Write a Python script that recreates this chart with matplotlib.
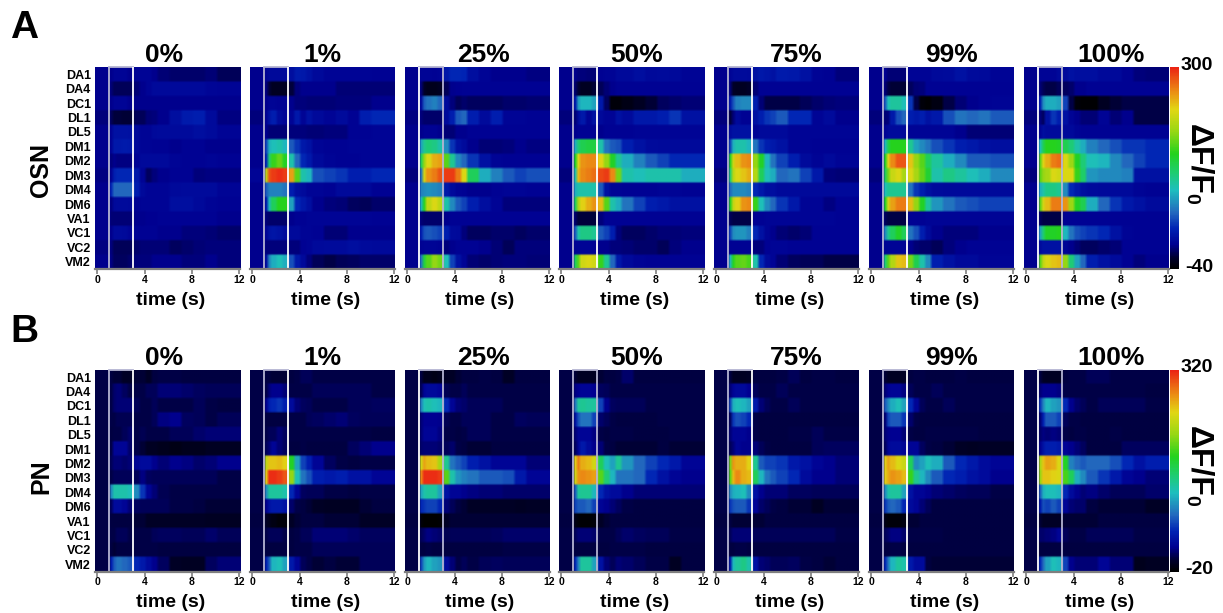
import matplotlib
matplotlib.use('Agg')
import matplotlib.pyplot as plt
import numpy as np
from matplotlib.colors import LinearSegmentedColormap, Normalize

plt.rcParams['font.family'] = ['Liberation Sans', 'DejaVu Sans']
plt.rcParams['font.weight'] = 'bold'

glomeruli = ['DA1','DA4','DC1','DL1','DL5','DM1','DM2','DM3','DM4','DM6','VA1','VC1','VC2','VM2']
concentrations = ['0%','1%','25%','50%','75%','99%','100%']
# each value column spans this many quarter-second cells, starting just before t=0
bin_cells = [5,1,1,2,2,2,2,2,2,2,4,4,4,4,4,8]
time_ticks = [0,4,8,12]

osn_0 = [
[0,0,5,5,5,0,5,5,5,0,-5,-8,-8,-8,-5,-12],
[0,-5,-12,-12,-12,-12,-5,0,5,8,8,8,8,8,6,4],
[0,0,5,5,5,0,0,0,0,0,0,0,0,0,0,0],
[-3,-12,-18,-18,-20,-20,-12,-12,-5,-3,0,12,22,25,10,-2],
[0,5,15,15,15,14,8,5,4,8,10,10,10,12,10,5],
[0,5,20,20,22,20,8,5,5,3,3,0,3,3,0,0],
[0,-3,0,-2,-2,-2,5,8,8,8,8,5,3,3,5,3],
[-2,5,25,30,30,30,20,5,-10,-3,0,3,3,-3,-2,-2],
[0,30,55,55,55,55,25,8,5,5,5,8,10,10,10,5],
[0,-2,8,10,10,8,3,5,5,5,5,12,12,8,5,3],
[0,-5,-5,-5,-5,-5,0,0,2,2,3,3,3,3,3,0],
[0,0,10,10,8,5,5,3,3,3,0,0,-3,-3,-5,-7],
[-2,-3,-12,-12,-12,-12,-8,-5,-5,-5,-5,-10,-8,-5,-3,-3],
[0,-2,-10,-10,-10,-8,-3,-3,-3,0,0,0,-3,-3,0,-4]]
osn_1 = [
[0,5,8,8,8,8,12,22,20,15,8,5,5,5,5,3],
[0,-3,-18,-25,-25,-25,-18,-3,0,0,0,0,-5,-5,-5,-5],
[0,0,5,5,3,3,0,-3,-3,-5,-5,-5,-3,-3,-3,0],
[-3,3,15,25,10,5,5,20,5,15,8,5,10,3,25,30],
[0,0,-5,-5,-5,-5,-3,-3,-3,-5,-5,-3,-3,3,3,5],
[0,40,85,95,100,90,50,35,20,15,5,3,3,5,5,5],
[0,30,120,160,175,150,100,55,30,20,8,5,3,3,5,5],
[5,210,280,290,295,290,250,170,100,90,45,40,35,25,25,30],
[0,50,65,65,65,60,25,12,10,5,5,3,8,8,8,3],
[0,20,90,130,155,155,80,30,20,12,0,-3,-5,-10,-12,-8],
[0,-5,-8,-8,-8,-8,0,3,3,5,5,5,5,5,5,3],
[0,5,15,18,15,10,8,8,5,5,3,-5,-5,0,0,0],
[0,-3,-3,-3,-3,-3,-3,-3,3,5,8,10,10,12,10,8],
[0,10,65,85,95,85,45,20,8,-3,-12,-15,-12,-10,-8,-8]]
osn_25 = [
[0,5,5,5,3,5,20,30,30,28,12,5,0,0,0,-2],
[0,-5,-22,-28,-28,-25,-12,0,2,3,3,3,3,3,3,3],
[0,10,50,60,65,55,10,-3,-12,-8,-10,-10,-10,-8,-8,-6],
[-2,-3,-8,-8,-8,-8,10,25,50,55,25,10,25,5,5,3],
[0,0,3,3,3,0,-5,-5,0,0,3,3,3,3,3,3],
[0,80,110,120,115,100,70,35,15,10,0,-5,-5,-3,0,-2],
[0,130,190,225,245,250,170,110,70,55,35,15,5,3,3,3],
[-3,60,220,255,265,280,290,290,265,225,130,85,65,50,40,45],
[0,65,70,72,70,65,20,10,5,3,0,0,3,5,5,3],
[0,90,150,210,225,210,100,70,50,40,25,12,5,-3,-3,-3],
[0,-5,-8,-8,-8,-8,0,3,3,3,3,3,3,3,3,3],
[0,25,45,50,45,40,25,10,8,-3,-10,-10,-8,-8,-10,-8],
[0,3,5,5,5,3,-3,0,3,3,3,0,-5,-12,-3,-3],
[0,60,140,170,190,180,95,40,15,5,-5,-8,-5,-3,-3,-5]]
osn_50 = [
[0,0,-3,-3,-5,-5,3,5,5,8,8,12,8,10,8,5],
[0,-8,-20,-25,-25,-20,-12,-5,0,3,3,3,3,3,3,3],
[0,20,75,90,90,80,20,-10,-35,-35,-30,-25,-20,-10,-8,-5],
[-3,-5,10,20,5,15,8,5,5,15,10,20,20,25,35,15],
[0,0,3,3,3,3,0,3,3,3,3,5,5,5,5,5],
[0,85,120,135,140,140,100,60,50,45,25,15,10,8,8,8],
[0,150,225,255,260,260,230,190,150,110,85,65,50,40,30,30],
[-3,100,240,260,265,270,285,290,260,180,100,95,100,100,100,85],
[0,85,100,100,100,100,50,15,5,5,3,3,3,5,5,3],
[0,130,200,230,245,255,240,170,100,85,60,40,25,20,15,15],
[0,-8,-18,-18,-18,-18,-3,3,3,3,3,3,3,3,3,3],
[0,50,100,115,115,110,50,40,25,-3,-10,-10,-8,-5,-5,-3],
[0,5,5,5,5,3,0,0,-3,-3,-5,-8,-8,-12,-3,0],
[0,130,170,220,225,220,160,110,55,20,8,5,3,3,3,3]]
osn_75 = [
[0,5,8,10,10,8,15,20,18,15,22,20,15,5,3,-3],
[0,-5,-22,-25,-25,-22,-5,3,3,3,3,3,3,3,3,3],
[0,20,45,65,70,70,25,-5,-15,-15,-15,-15,-12,-8,-5,-3],
[-3,-18,-5,8,3,3,15,25,35,40,50,30,30,5,10,0],
[0,10,15,15,15,15,5,8,8,8,8,5,5,5,5,5],
[0,40,85,100,100,90,60,35,25,20,15,5,5,3,3,3],
[0,150,215,240,255,260,190,150,90,60,40,25,10,5,8,5],
[-3,120,205,225,235,245,205,130,95,85,55,60,40,20,-3,-5],
[0,55,70,70,70,65,30,20,12,12,8,8,8,8,8,8],
[0,150,210,230,255,260,160,95,70,55,35,20,5,5,-2,3],
[0,-12,-15,-15,-15,-15,3,3,5,5,5,5,5,5,5,3],
[0,40,70,75,75,65,30,15,5,0,-5,-8,-5,3,3,3],
[0,3,3,3,3,3,-3,-3,3,5,5,3,3,3,3,3],
[0,90,150,170,175,165,100,30,10,5,-5,-10,-12,-12,-15,-15]]
osn_99 = [
[0,3,-5,-5,-5,-5,5,5,5,5,8,10,15,10,8,5],
[0,-5,-15,-20,-20,-20,-10,-5,-3,3,3,3,3,3,3,3],
[0,50,95,105,105,95,35,-15,-35,-38,-32,-15,-5,0,3,5],
[-3,-5,-3,20,45,55,25,20,25,15,20,45,60,55,60,50],
[0,5,8,10,10,8,5,5,5,5,5,5,0,-5,-5,-5],
[0,90,135,155,155,155,110,80,70,60,45,35,25,20,15,12],
[0,150,230,260,280,280,235,190,170,130,105,85,70,50,50,45],
[-3,130,180,215,225,200,225,200,175,145,100,115,105,95,85,70],
[0,95,110,110,110,110,60,35,25,15,10,8,8,8,8,8],
[0,150,220,250,265,265,240,190,150,105,75,60,50,45,40,40],
[0,-10,-15,-15,-15,-15,3,3,3,5,5,5,5,5,5,5],
[0,70,110,130,150,130,60,45,25,10,0,-3,-3,-3,0,0],
[0,5,5,5,5,5,0,-5,-8,-8,-12,-3,0,3,3,3],
[0,120,170,205,235,240,180,135,100,70,25,15,8,8,5,5]]
osn_100 = [
[0,5,5,5,5,8,10,15,12,12,12,8,8,3,-3,-5],
[0,-5,-12,-15,-15,-12,-10,-8,0,0,3,3,3,3,3,3],
[0,25,70,85,85,80,40,-15,-35,-38,-38,-25,-20,-15,-15,-15],
[-3,-3,-10,15,35,25,15,5,0,-5,-5,5,-5,0,-15,-15],
[0,5,12,10,10,10,8,8,5,3,3,3,3,3,3,3],
[0,95,130,155,155,150,135,120,100,85,65,55,45,35,35,30],
[0,170,225,245,265,270,225,195,150,120,95,90,70,55,40,30],
[-3,170,190,200,225,220,225,225,160,125,75,70,70,65,15,15],
[0,85,100,115,115,110,70,30,20,12,10,8,8,8,5,3],
[0,170,220,240,265,265,255,195,150,135,85,55,35,20,15,10],
[0,-10,-15,-15,-15,-15,3,3,3,3,3,3,3,3,3,3],
[0,80,120,150,150,155,90,60,45,40,35,30,15,5,3,3],
[0,10,15,15,15,15,5,0,-5,-10,-10,-8,-5,3,3,3],
[0,170,210,225,235,240,190,120,80,55,25,15,10,3,-3,0]]

pn_0 = [
[5,3,0,0,-3,-3,0,0,-3,3,5,5,3,3,3,3],
[5,5,12,15,10,5,5,5,8,8,15,15,12,10,8,8],
[5,5,12,15,15,15,8,5,5,8,5,5,5,8,5,3],
[5,5,5,7,7,7,5,5,5,8,18,20,10,8,5,8],
[5,3,5,5,8,12,5,7,5,5,5,8,8,12,15,15],
[5,5,25,25,25,12,5,0,-5,-5,-8,-10,-8,-8,-5,-5],
[5,8,15,15,12,15,25,30,30,20,15,20,18,12,15,20],
[5,5,8,8,8,8,8,18,10,8,8,8,8,8,8,5],
[5,90,120,120,120,115,90,55,25,15,7,5,5,5,5,5],
[5,10,30,30,25,15,10,8,8,8,8,5,5,3,0,0],
[5,3,3,3,3,3,0,0,-3,-3,-3,-3,-3,-3,-5,-5],
[5,5,5,8,8,5,5,5,5,8,10,10,8,8,12,8],
[5,3,0,3,3,3,5,5,5,5,3,3,3,3,3,3],
[5,45,70,80,75,70,50,40,30,20,10,-3,-5,-5,10,15]]
pn_1 = [
[5,3,3,0,0,0,3,5,8,8,5,5,5,5,5,5],
[5,5,15,20,20,15,5,5,5,5,8,8,8,8,8,5],
[5,20,45,50,55,45,30,15,10,8,5,5,5,8,8,10],
[5,3,3,3,3,3,5,5,5,8,10,12,15,10,8,8],
[5,5,8,8,15,10,5,5,5,5,5,5,5,5,5,3],
[5,8,15,25,15,10,3,3,5,3,3,3,3,10,15,20],
[5,230,255,255,260,250,170,100,60,45,25,10,5,3,5,5],
[5,250,315,315,310,300,210,115,80,65,45,40,45,35,35,25],
[5,90,125,125,125,120,50,25,10,8,8,5,5,3,5,5],
[5,20,35,40,40,35,12,5,3,0,-3,-5,-5,-5,0,3],
[3,-3,-8,-12,-15,-15,-3,0,3,3,3,0,0,0,-3,-3],
[5,5,8,8,8,5,3,5,8,8,15,15,15,12,10,10],
[5,3,3,3,3,3,3,5,5,5,8,8,8,8,8,8],
[5,45,70,110,115,100,40,25,8,5,0,3,0,0,8,8]]
pn_25 = [
[5,3,-8,-8,-10,-8,-3,-3,0,3,3,5,3,-3,3,3],
[5,8,25,28,28,25,7,5,5,8,5,5,5,5,5,5],
[5,85,115,120,115,110,50,25,15,12,8,8,8,5,5,5],
[5,15,22,22,22,20,7,5,5,8,8,8,5,5,10,8],
[5,15,25,25,25,18,5,5,3,5,8,8,5,5,5,5],
[5,12,15,15,15,12,8,12,5,3,0,0,3,3,3,3],
[5,240,270,260,255,220,130,80,70,60,45,35,25,25,25,15],
[5,280,315,315,315,310,190,120,95,85,80,70,70,65,40,25],
[5,100,120,125,125,100,35,25,25,20,18,15,15,12,12,12],
[5,50,55,60,60,50,15,8,3,0,-3,-3,-3,-3,-5,-3],
[3,-15,-20,-20,-20,-18,-3,0,0,0,0,0,0,0,0,0],
[5,8,12,18,15,12,7,8,8,8,8,8,10,12,12,12],
[5,3,3,5,3,3,3,3,3,3,3,3,3,5,5,5],
[5,60,95,110,100,95,30,15,5,8,5,8,10,8,8,8]]
pn_50 = [
[5,0,-5,-5,-5,-5,0,3,3,5,12,3,3,3,3,3],
[5,18,22,25,25,22,10,8,5,5,5,5,5,5,5,5],
[5,80,125,130,125,125,60,20,10,8,8,8,5,5,5,5],
[5,35,65,80,80,60,12,8,5,3,3,3,3,5,5,5],
[5,15,25,25,25,18,5,3,5,5,5,3,3,3,5,5],
[5,10,25,40,30,20,15,5,3,0,0,0,0,3,0,0],
[5,250,285,265,260,240,150,115,100,130,95,75,60,50,40,25],
[5,240,275,280,275,270,190,140,110,80,80,75,50,35,25,20],
[5,70,125,130,130,110,50,35,30,30,20,15,15,15,15,15],
[5,60,70,70,75,60,25,20,15,10,5,3,3,3,3,3],
[3,-10,-15,-18,-18,-15,-3,0,3,3,3,3,3,3,3,3],
[5,8,15,15,15,12,5,5,5,8,12,10,8,8,5,5],
[5,3,3,3,3,3,3,3,5,5,5,5,3,3,3,3],
[5,50,85,125,125,100,35,15,8,15,12,8,5,5,-5,3]]
pn_75 = [
[5,3,-5,-5,-5,-3,3,3,3,3,5,8,3,5,5,3],
[5,15,25,28,28,22,8,5,5,5,8,5,5,5,5,5],
[5,60,105,115,110,100,40,15,8,5,5,8,5,5,5,5],
[5,10,55,65,60,50,5,3,3,3,3,3,3,3,3,3],
[5,15,25,25,25,20,5,3,3,3,3,5,5,8,5,5],
[5,8,15,25,20,20,15,8,5,3,3,3,3,8,10,10],
[5,200,275,265,265,250,130,70,60,60,55,40,35,25,20,15],
[5,190,260,280,265,260,150,110,80,70,60,50,30,20,20,15],
[5,90,105,110,115,90,35,20,15,15,15,10,10,8,8,8],
[5,55,65,70,70,55,25,12,8,5,3,0,0,-5,0,0],
[3,3,0,0,0,0,0,0,3,3,3,3,3,3,3,3],
[5,8,15,15,15,15,8,8,8,8,8,8,8,8,8,5],
[5,3,3,5,5,3,3,3,3,3,3,3,3,3,3,3],
[5,40,110,125,135,120,35,15,12,8,8,10,5,3,0,3]]
pn_99 = [
[5,0,-5,-5,-5,-3,3,5,5,3,3,3,5,3,3,3],
[5,15,22,25,25,18,8,5,5,5,8,5,5,5,5,5],
[5,70,90,105,115,100,50,25,8,5,5,8,5,5,5,5],
[5,15,60,70,70,55,12,5,3,3,3,3,3,3,3,3],
[5,15,20,22,22,15,5,3,3,5,5,5,5,5,3,3],
[5,10,25,30,30,25,25,25,10,5,3,0,-3,-5,-3,-3],
[5,250,270,260,245,235,150,90,100,115,105,70,50,40,30,25],
[5,250,265,275,270,260,180,130,110,90,70,50,45,35,30,20],
[5,90,120,125,125,100,35,25,25,20,15,12,10,8,8,5],
[5,55,70,75,70,50,30,25,15,8,3,3,3,3,3,3],
[3,-10,-15,-15,-15,-12,0,0,3,3,3,3,3,3,3,3],
[5,8,12,18,18,12,5,5,5,5,5,3,3,3,3,3],
[5,3,3,5,5,3,3,3,3,3,3,3,3,3,3,3],
[5,50,80,110,125,120,40,30,30,3,0,0,0,0,0,0]]
pn_100 = [
[5,3,-3,-5,-5,-5,3,5,5,5,8,8,5,5,5,5],
[5,15,20,20,20,18,5,5,5,5,5,5,5,5,5,3],
[5,55,85,110,100,95,50,20,12,8,5,8,8,8,8,5],
[5,15,45,70,70,60,8,5,5,3,3,3,3,3,3,3],
[5,12,18,15,18,15,5,3,5,5,3,3,5,3,3,3],
[5,20,35,45,45,40,25,20,15,10,3,3,3,10,10,10],
[5,220,255,270,265,245,170,85,75,70,75,75,65,50,35,45],
[5,210,255,255,250,245,185,150,105,90,70,55,40,25,20,15],
[5,70,105,115,115,110,50,30,20,15,18,12,8,8,8,12],
[5,40,65,60,70,60,25,15,12,12,3,0,0,0,0,-3],
[3,0,-3,-3,-3,-3,0,0,0,0,0,3,3,3,3,3],
[5,12,12,15,18,25,8,5,5,5,8,8,8,8,5,5],
[5,3,3,3,3,3,3,3,3,3,3,3,3,3,3,3],
[5,50,75,100,115,110,60,20,15,15,15,25,15,15,-8,-5]]

osn_panels = [osn_0, osn_1, osn_25, osn_50, osn_75, osn_99, osn_100]
pn_panels = [pn_0, pn_1, pn_25, pn_50, pn_75, pn_99, pn_100]

W, H = 1223, 613
GRAY = '#b4b4d2'
cmap = LinearSegmentedColormap.from_list('dff', [
    (0.00, (0, 0, 0)), (0.05, (0, 0, 40/255)), (0.12, (0, 0, 145/255)),
    (0.20, (0, 35/255, 180/255)), (0.28, (35/255, 105/255, 190/255)),
    (0.39, (30/255, 190/255, 190/255)), (0.48, (30/255, 205/255, 110/255)),
    (0.57, (35/255, 210/255, 30/255)), (0.68, (150/255, 215/255, 20/255)),
    (0.79, (225/255, 215/255, 20/255)), (0.88, (235/255, 140/255, 20/255)),
    (1.00, (235/255, 35/255, 20/255))])

panel_lefts = [95, 250, 405, 559, 714, 869, 1024]
panel_w = 145
title_x = [164, 322, 483, 637, 796, 951, 1111]
time_label_x = [171, 326, 480, 635, 790, 945, 1100]
box_sides = {'A': [(GRAY,'white'),(GRAY,'white'),('white',GRAY),(GRAY,'white'),(GRAY,'white'),(GRAY,'white'),('white',GRAY)],
             'B': [(GRAY,'white'),(GRAY,'white'),('white',GRAY),(GRAY,GRAY),(GRAY,'white'),(GRAY,'white'),('white',GRAY)]}

fig = plt.figure(figsize=(W/100, H/100), dpi=100, facecolor='white')

def ftext(x, y, s, **kw):
    kw.setdefault('ha', 'center'); kw.setdefault('va', 'center')
    fig.text(x/W, 1-y/H, s, fontweight='bold', color='black', **kw)

def row(key, panels, top, bottom, vmin, vmax, ylab, ylab_y, letter, letter_y, vmax_y, vmin_y):
    norm = Normalize(vmin, vmax)
    h = bottom - top
    im = None
    for i, (data, left) in enumerate(zip(panels, panel_lefts)):
        ax = fig.add_axes([left/W, 1-bottom/H, panel_w/W, h/H])
        grid = np.repeat(np.repeat(np.array(data, float), bin_cells, axis=1), 6, axis=0)
        im = ax.imshow(grid, cmap=cmap, norm=norm, aspect='auto', interpolation='bilinear',
                       extent=(-0.2, 12.07, 14, 0))
        ax.set_ylim(14, 0)
        ax.set_xlim(-0.2, 12.07)
        for s in ('left', 'right', 'top'):
            ax.spines[s].set_visible(False)
        ax.spines['bottom'].set_color('#7f7f7f')
        ax.spines['bottom'].set_linewidth(1.6)
        ax.set_xticks(time_ticks)
        ax.set_xticklabels(time_ticks, fontsize=7.5, fontweight='bold')
        ax.tick_params(axis='x', length=3.5, width=1.2, color='#7f7f7f', pad=0.8)
        if i == 0:
            ax.set_yticks(np.arange(14)+0.5)
            ax.set_yticklabels(glomeruli, fontsize=9, fontweight='bold')
            ax.tick_params(axis='y', length=0, pad=3)
        else:
            ax.set_yticks([])
        lc, rc = box_sides[key][i]
        ax.plot([1, 3], [0.03, 0.03], color=GRAY, lw=1.3, clip_on=False)
        ax.plot([1, 1], [0, 14], color=lc, lw=1.3)
        ax.plot([3, 3], [0, 14], color=rc, lw=1.3)
        ftext(title_x[i], top-12, concentrations[i], fontsize=19)
        ftext(time_label_x[i], bottom+31, 'time (s)', fontsize=14)
    cax = fig.add_axes([1170/W, 1-bottom/H, 9/W, h/H])
    cb = fig.colorbar(im, cax=cax)
    cb.outline.set_visible(False)
    cb.set_ticks([])
    ftext(1213, vmax_y, str(vmax), fontsize=14, ha='right')
    ftext(1213, vmin_y, str(vmin), fontsize=14, ha='right')
    cy = (top+bottom)/2 + 1
    ftext(1198, cy-10, 'ΔF/F', fontsize=23, rotation=270)
    ftext(1191, cy+29, '0', fontsize=14, rotation=270)
    ftext(41, ylab_y, ylab, fontsize=18, rotation=90)
    ftext(24, letter_y, letter, fontsize=28)

row('A', osn_panels, 67, 269, -40, 300, 'OSN', 170, 'A', 28, 65, 267)
row('B', pn_panels, 370, 571.5, -20, 320, 'PN', 477, 'B', 332, 368, 569)

fig.savefig('out.png', dpi=100)
